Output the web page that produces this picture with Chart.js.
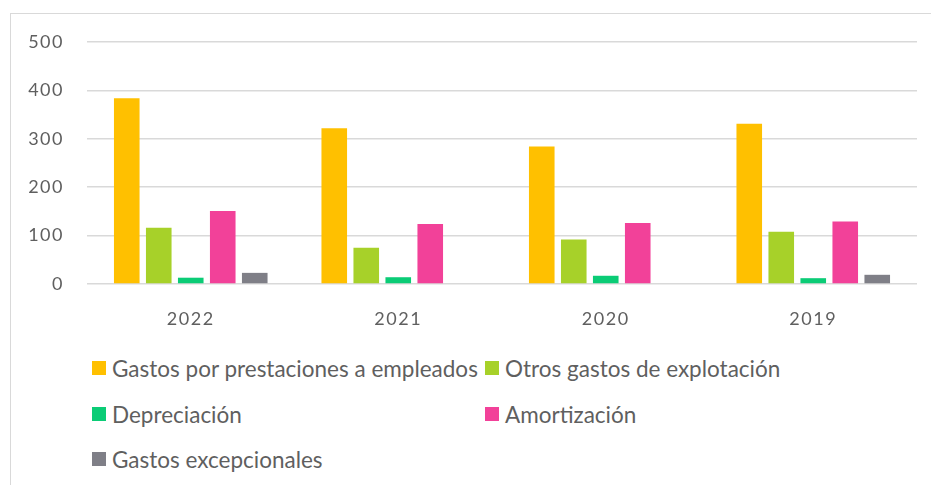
<!DOCTYPE html>
<html>
<head>
<meta charset="utf-8">
<script src="https://cdn.jsdelivr.net/npm/chart.js@4/dist/chart.umd.min.js"></script>
<style>
  html, body { margin: 0; padding: 0; background: #fff; width: 931px; height: 485px; overflow: hidden; }
  #frame { position: absolute; left: 10px; top: 13px; width: 940px; height: 500px; border: 1.5px solid #d9d9d9; box-sizing: border-box; }
  #wrap { position: absolute; left: 0; top: 0; width: 931px; height: 340px; }
  #legend { position: absolute; left: 92px; top: 354px; font-family: Lato, "Open Sans", sans-serif; font-size: 22.5px; color: #5f5f5f; }
  .item { position: absolute; white-space: nowrap; display: flex; align-items: center; height: 28px; }
  .box { width: 14px; height: 14px; margin-right: 6px; flex: none; }
</style>
</head>
<body>
<div id="frame"></div>
<div id="wrap"><canvas id="c"></canvas></div>
<div id="legend"></div>
<script>
const categories = ["2022", "2021", "2020", "2019"];
const seriesNames = [
  "Gastos por prestaciones a empleados",
  "Otros gastos de explotación",
  "Depreciación",
  "Amortización",
  "Gastos excepcionales"
];
const gastosEmpleados = [384, 322, 284, 331];
const otrosGastos = [116, 75, 92, 108];
const depreciacion = [13, 14, 17, 12];
const amortizacion = [151, 124, 126, 129];
const gastosExcepcionales = [23, 0, 0, 19];
const yTicks = [0, 100, 200, 300, 400, 500];

const colors = ["#FFC000", "#A7D129", "#0BCC76", "#F24199", "#7F7F87"];
const values = [gastosEmpleados, otrosGastos, depreciacion, amortizacion, gastosExcepcionales];

const datasets = seriesNames.map((name, i) => ({
  label: name,
  data: values[i],
  backgroundColor: colors[i],
  borderWidth: 0,
  barPercentage: 0.8,
  categoryPercentage: 0.771
}));

const spacing = {
  id: 'spacing',
  beforeUpdate: c => { c.ctx.letterSpacing = '1.5px'; },
  beforeDraw: c => { c.ctx.letterSpacing = '1.5px'; }
};

new Chart(document.getElementById('c'), {
  type: 'bar',
  data: { labels: categories, datasets },
  plugins: [spacing],
  options: {
    responsive: true,
    maintainAspectRatio: false,
    animation: false,
    layout: { padding: { left: 0, right: 14, top: 42, bottom: 0 } },
    plugins: { legend: { display: false }, tooltip: { enabled: false } },
    scales: {
      x: {
        grid: { display: false, drawTicks: false },
        border: { display: false },
        ticks: { color: '#5f5f5f', font: { family: 'Lato, "Open Sans", sans-serif', size: 18 }, padding: 24 },
        afterFit: s => { s.height = 56; }
      },
      y: {
        min: 0, max: 500,
        afterBuildTicks: s => { s.ticks = yTicks.map(v => ({ value: v })); },
        grid: { color: '#d9d9d9', lineWidth: 1.5, drawTicks: false },
        border: { display: false },
        ticks: { color: '#5f5f5f', font: { family: 'Lato, "Open Sans", sans-serif', size: 18 }, padding: 23 },
        afterFit: s => { s.width = 87; }
      }
    }
  }
});

const legend = document.getElementById('legend');
const pos = [[0, 0], [393, 0], [0, 46], [393, 46], [0, 91]];
seriesNames.forEach((name, i) => {
  const d = document.createElement('div');
  d.className = 'item';
  d.style.left = pos[i][0] + 'px';
  d.style.top = pos[i][1] + 'px';
  d.innerHTML = '<span class="box" style="background:' + colors[i] + '"></span><span>' + name + '</span>';
  legend.appendChild(d);
});
</script>
</body>
</html>
